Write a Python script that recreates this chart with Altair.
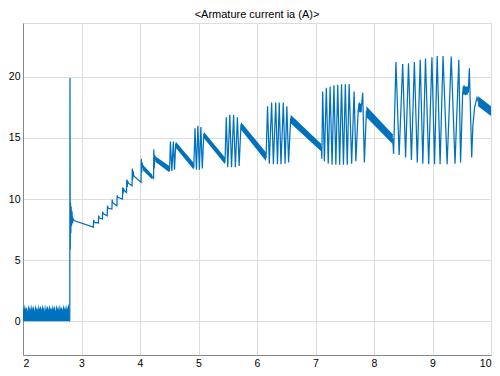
import altair as alt
import pandas as pd

TITLE = "<Armature current ia (A)>"
x_ticks = [2, 3, 4, 5, 6, 7, 8, 9, 10]
y_ticks = [0, 5, 10, 15, 20]
BLUE = "#0072BD"

# idle ripple before the start (time, upper edge of the filled ripple)
noise_t = [2.000, 2.015, 2.030, 2.045, 2.060, 2.075, 2.090, 2.105, 2.120, 2.135, 2.150, 2.165,
           2.180, 2.195, 2.210, 2.225, 2.240, 2.255, 2.270, 2.285, 2.300, 2.315, 2.330, 2.345,
           2.360, 2.375, 2.390, 2.405, 2.420, 2.435, 2.450, 2.465, 2.480, 2.495, 2.510, 2.525,
           2.540, 2.555, 2.570, 2.585, 2.600, 2.615, 2.630, 2.645, 2.660, 2.675, 2.690, 2.705,
           2.720, 2.735, 2.750, 2.765, 2.780, 2.795]
noise_hi = [1.3, 0.9, 1.4, 1.0, 1.2, 0.8, 1.4, 1.0, 1.3, 0.9, 1.4, 1.0, 1.3, 0.8,
            1.4, 1.0, 1.2, 0.9, 1.4, 1.0, 1.3, 0.9, 1.4, 1.0, 1.3, 0.8, 1.4, 1.0,
            1.3, 0.9, 1.4, 1.0, 1.2, 0.9, 1.4, 1.0, 1.3, 0.8, 1.4, 1.0, 1.3, 0.9,
            1.4, 1.0, 1.2, 0.9, 1.4, 1.0, 1.3, 0.9, 1.4, 1.0, 1.5, 1.0]

# start-up spike
spike_t = [2.795, 2.800, 2.803, 2.808, 2.813, 2.818, 2.823, 2.830, 2.838, 2.846, 2.855, 2.870]
spike_i = [0.0, 0.3, 19.9, 5.9, 9.7, 7.2, 9.4, 7.8, 9.0, 8.0, 8.4, 8.25]

# saw-tooth build-up
teeth_t = [3.203, 3.207, 3.220, 3.290, 3.294, 3.305, 3.357, 3.361, 3.372, 3.440, 3.444, 3.455,
           3.520, 3.524, 3.535, 3.605, 3.609, 3.620, 3.700, 3.704, 3.712, 3.718, 3.730,
           3.770, 3.774, 3.782, 3.788, 3.800, 3.864, 3.868, 3.876, 3.882, 3.895,
           4.018, 4.022, 4.030, 4.036, 4.050, 4.210, 4.232, 4.236, 4.244, 4.250, 4.262, 4.500]
teeth_i = [7.70, 8.30, 8.10, 8.05, 8.65, 8.45, 8.37, 8.97, 8.80, 8.64, 9.46, 9.25,
           9.19, 9.95, 9.70, 9.46, 10.30, 10.15, 10.00, 10.95, 10.45, 10.90, 10.70,
           10.54, 11.60, 11.00, 11.50, 11.30, 11.08, 12.50, 11.60, 12.30, 11.90,
           11.36, 13.30, 12.20, 13.00, 12.60, 11.80, 11.70, 14.06, 12.50, 13.60, 13.25, 12.45]

# oscillation bursts
g2_t = [4.505, 4.520, 4.545, 4.570, 4.590, 4.610]
g2_i = [12.3, 14.7, 12.3, 14.7, 12.4, 14.45]
g3_t = [4.920, 4.940, 4.965, 4.990, 5.015, 5.040, 5.065, 5.090]
g3_i = [12.65, 15.8, 12.4, 16.0, 12.4, 15.9, 12.5, 15.25]
g4_t = [5.453, 5.475, 5.500, 5.535, 5.565, 5.600, 5.630, 5.665, 5.695, 5.725]
g4_i = [13.1, 16.7, 12.6, 16.9, 12.6, 16.9, 12.6, 16.7, 12.7, 16.0]
g5_t = [6.155, 6.180, 6.210, 6.250, 6.280, 6.320, 6.350, 6.380, 6.410, 6.450, 6.480, 6.510, 6.540, 6.575]
g5_i = [13.45, 17.6, 12.9, 17.9, 12.85, 17.9, 12.85, 17.9, 12.85, 17.9, 12.9, 17.6, 13.0, 16.55]
g6_t = [7.100, 7.108, 7.122, 7.152, 7.185, 7.218, 7.250, 7.283, 7.315, 7.348, 7.380, 7.413, 7.445,
        7.478, 7.510, 7.543, 7.575, 7.618, 7.660, 7.690, 7.730, 7.750, 7.770, 7.790, 7.807, 7.835, 7.870]
g6_i = [14.2, 13.3, 18.8, 13.1, 19.1, 12.9, 19.2, 12.8, 19.3, 12.8, 19.35, 12.8, 19.4,
        12.8, 19.4, 12.8, 19.4, 12.9, 18.8, 13.1, 17.3, 17.9, 17.1, 17.8, 18.7, 13.0, 17.15]
g7_t = [8.320, 8.335, 8.375, 8.430, 8.490, 8.540, 8.590, 8.640, 8.690, 8.740,
        8.790, 8.835, 8.880, 8.935, 8.990, 9.035, 9.080, 9.130, 9.180, 9.250,
        9.320, 9.385, 9.450, 9.480, 9.515, 9.540, 9.565, 9.590, 9.612, 9.630,
        9.670, 9.690, 9.720, 9.760, 9.780, 10.0]
g7_i = [14.9, 13.7, 21.2, 13.6, 21.05, 13.4, 21.1, 13.2, 21.2, 13.0,
        21.4, 12.9, 21.5, 12.85, 21.6, 12.85, 21.7, 12.85, 21.7, 12.85,
        21.65, 12.9, 21.4, 13.0, 18.6, 19.3, 18.5, 19.2, 18.7, 20.7,
        13.4, 16.0, 17.5, 18.3, 18.0, 17.2]

# thick ripple bands (start/end of each band)
band_id = ["b1", "b1", "b2", "b2", "b3", "b3", "b4", "b4", "b5", "b5", "b6", "b6",
           "k6", "k6", "b7", "b7", "k7", "k7", "b8", "b8"]
band_t = [4.050, 4.210, 4.262, 4.500, 4.610, 4.920, 5.090, 5.453, 5.725, 6.155, 6.575, 7.100,
          7.735, 7.790, 7.870, 8.320, 9.515, 9.605, 9.780, 10.0]
band_lo = [12.35, 11.6, 13.05, 12.2, 14.2, 12.4, 15.0, 12.85, 15.7, 13.1, 16.2, 13.9,
           17.1, 17.1, 16.7, 14.5, 18.55, 18.55, 17.6, 16.8]
band_hi = [12.8, 12.0, 13.5, 12.7, 14.7, 12.95, 15.5, 13.4, 16.3, 13.8, 16.9, 14.5,
           17.8, 17.8, 17.6, 15.3, 19.2, 19.2, 18.4, 17.6]

line_t = spike_t + teeth_t + g2_t + g3_t + g4_t + g5_t + g6_t + g7_t
line_i = spike_i + teeth_i + g2_i + g3_i + g4_i + g5_i + g6_i + g7_i
line_df = pd.DataFrame({"t": line_t, "i": line_i, "k": list(range(len(line_t)))})
noise_df = pd.DataFrame({"t": noise_t, "hi": noise_hi, "lo": [0.0] * len(noise_t)})
band_df = pd.DataFrame({"t": band_t, "lo": band_lo, "hi": band_hi, "id": band_id})

xs = alt.Scale(domain=[2, 10], nice=False, zero=False)
ys = alt.Scale(domain=[-2.75, 24.4], nice=False, zero=False)
xax = alt.Axis(values=x_ticks, title=None, grid=True, labelFlush=True, format="d",
               labelPadding=3, labelFontSize=10.5, ticks=False, tickSize=0)
yax = alt.Axis(values=y_ticks, title=None, grid=True, labelPadding=3, format="d",
               labelFontSize=10.5, ticks=False, tickSize=0)

noise = alt.Chart(noise_df).mark_area(color=BLUE, opacity=1, interpolate="linear").encode(
    x=alt.X("t:Q", scale=xs, axis=xax),
    y=alt.Y("lo:Q", scale=ys, axis=yax),
    y2="hi:Q",
)
bands = alt.Chart(band_df).mark_area(color=BLUE, opacity=1).encode(
    x=alt.X("t:Q", scale=xs), y=alt.Y("lo:Q", scale=ys), y2="hi:Q", detail="id:N"
)
line = alt.Chart(line_df).mark_line(color=BLUE, strokeWidth=1.25).encode(
    x=alt.X("t:Q", scale=xs), y=alt.Y("i:Q", scale=ys), order="k:Q"
)

chart = (
    alt.layer(noise, bands, line)
    .properties(
        width=468,
        height=332,
        autosize=alt.AutoSizeParams(type="none"),
        padding={"left": 15, "top": 15, "right": 1, "bottom": 13},
        title=alt.TitleParams(TITLE, fontSize=11, fontWeight="normal", font="Liberation Sans",
                              color="#000000", offset=3, anchor="middle"),
    )
    .configure_axis(
        domainColor="#262626", domainWidth=1, gridColor="#e6e6e6", gridWidth=0.8,
        labelFont="Liberation Sans", labelColor="#262626",
    )
    .configure_view(stroke="#262626", strokeWidth=1)
    .configure(background="white")
)

chart.save("out.html", embed_options={"renderer": "svg", "actions": False})
